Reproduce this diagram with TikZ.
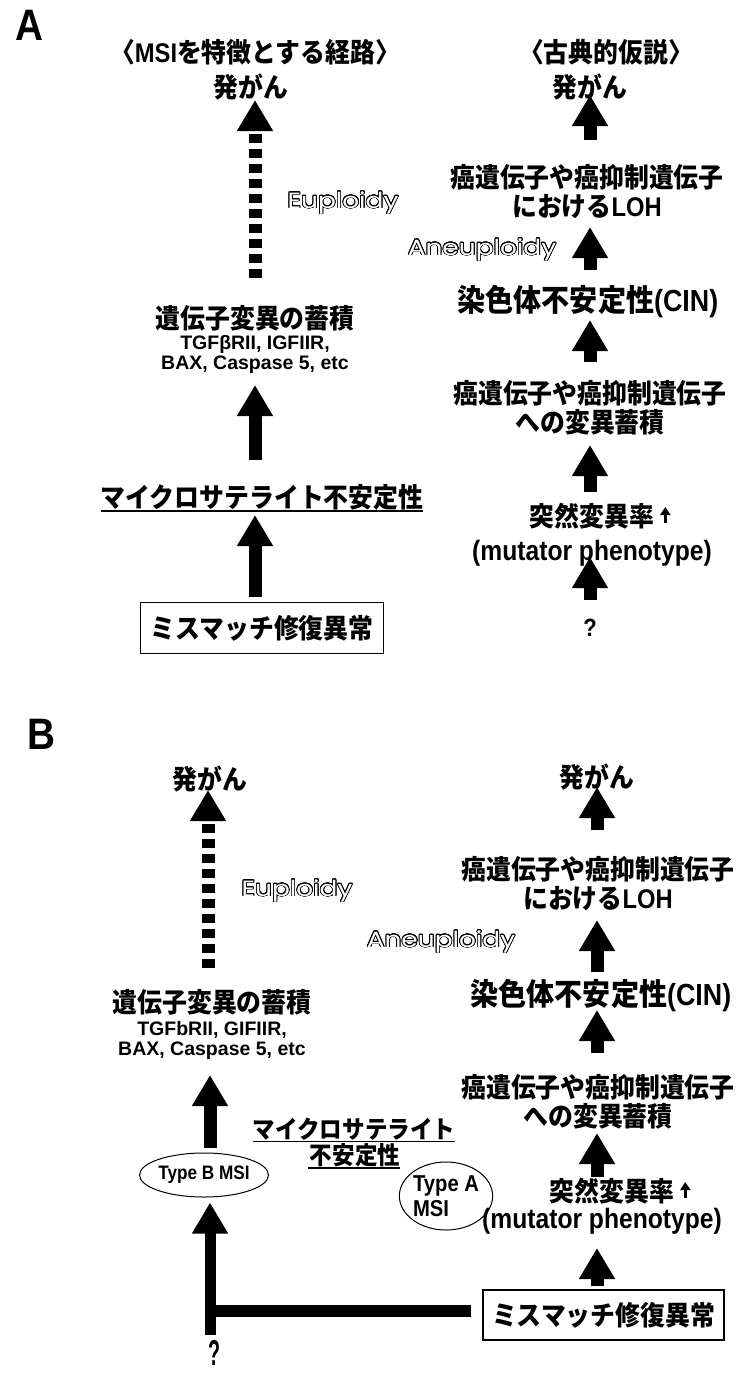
\documentclass[tikz,border=0pt]{standalone}
\usepackage{fontspec}
\usepackage[copies]{contour}
\usetikzlibrary{arrows.meta,calc,shapes.geometric}
\newfontfamily\jp{Noto Sans CJK JP}[FakeStretch=0.92]
\newfontfamily\lat{Liberation Sans}[FakeStretch=0.88]
\newfontfamily\latw{Liberation Sans}
\newfontfamily\rnd{Poppins}[FakeStretch=1.2]
\contourlength{0.8pt}
\contournumber{24}
\newcommand{\olt}[1]{{\color{white}\contour{black}{#1}}}
\begin{document}
\begin{tikzpicture}[x=1pt,y=-1pt,
 jt/.style={font=\jp\bfseries\fontsize{27}{29}\selectfont, inner sep=0pt, align=center},
 big/.style={font=\jp\bfseries\fontsize{30.5}{31}\selectfont, inner sep=0pt, align=center},
 lt/.style={font=\lat\bfseries\fontsize{28}{28}\selectfont, inner sep=0pt, align=center},
 sub/.style={font=\latw\bfseries\fontsize{19.5}{20}\selectfont, inner sep=0pt, align=center},
 lab/.style={font=\lat\bfseries\fontsize{44}{44}\selectfont, inner sep=0pt},
 ol/.style={font=\rnd\fontsize{22}{22}\selectfont, inner sep=0pt},
 fat/.style={line width=13pt, -{Triangle[width=34pt,length=31pt]}},
 fatdash/.style={fat, dash pattern=on 9pt off 6pt},
 thinarr/.style={line width=3.5pt, -{Triangle[width=10pt,length=8pt]}},
 boxed/.style={jt, draw, line width=1.2pt, minimum width=243pt, minimum height=51pt},
 oval/.style={ellipse, draw, line width=1pt, inner sep=0pt, font=\lat\bfseries\fontsize{19.5}{22}\selectfont},
 ul/.style={line width=1.6pt},
 bar/.style={line width=12pt}
]
\fill[white] (0,0) rectangle (739,1373);
\useasboundingbox (0,0) rectangle (739,1373);

% column coordinates
\coordinate (colAL) at (255,0);
\coordinate (colAR) at (590,0);
\coordinate (colBLd) at (208,0);
\coordinate (colBL) at (210,0);
\coordinate (colBR) at (597,0);

% ---------------- Panel A ----------------
\node[lab] (labA) at (29,25) {A};
\node[jt] (headL) at (255,52) {〈{\lat MSI}を特徴とする経路〉};
\node[jt] (headR) at (606,52) {〈古典的仮説〉};
\node[jt] (hatsuAL) at (251,87) {発がん};
\node[jt] (hatsuAR) at (590,87) {発がん};
\node[ol] (euA) at (343,203) {\olt{Euploidy}};
\node[jt] (lohA) at (587,191.5) {癌遺伝子や癌抑制遺伝子\\における{\lat LOH}};
\node[ol] (aneuA) at (482,250) {\olt{Aneuploidy}};
\node[big] (cinA) at (588,302) {染色体不安定性{\lat (CIN)}};
\node[jt] (mutA) at (590,408) {癌遺伝子や癌抑制遺伝子\\への変異蓄積};
\node[jt] (rateA) at (592,516) {突然変異率};
\node[lt] (phenA) at (592,553) {(mutator phenotype)};
\node[lt, font=\lat\bfseries\fontsize{25}{25}\selectfont] (qA) at (590,628) {?};
\node[jt] (geneA) at (255,318) {遺伝子変異の蓄積};
\node[sub] (geneAsub) at (255,354.5) {TGF{β}RII, IGFIIR,\\BAX, Caspase 5, etc};
\node[jt] (msiA) at (262,497) {マイクロサテライト不安定性};
\node[boxed] (boxA) at (262,628) {ミスマッチ修復異常};

\draw[ul] ($(msiA.south west)+(0,1)$) -- ($(msiA.south east)+(0,1)$);
\draw[thinarr] ($(rateA.east)+(11,7)$) -- ($(rateA.east)+(11,-9)$);

\draw[fatdash] ($(colAL |- geneA.center)+(0,-40)$) -- ($(colAL |- hatsuAL.center)+(0,13)$);
\draw[fat] ($(colAL |- msiA.center)+(0,-37)$) -- ($(colAL |- geneAsub.center)+(0,30.5)$);
\draw[fat] ($(colAL |- boxA.north)+(0,-5)$) -- ($(colAL |- msiA.center)+(0,18)$);

\draw[fat] ($(colAR |- lohA.center)+(0,-51.5)$) -- ($(colAR |- hatsuAR.center)+(0,8)$);
\draw[fat] ($(colAR |- cinA.center)+(0,-32)$) -- ($(colAR |- lohA.center)+(0,35.5)$);
\draw[fat] ($(colAR |- mutA.center)+(0,-46)$) -- ($(colAR |- cinA.center)+(0,18)$);
\draw[fat] ($(colAR |- rateA.center)+(0,-24)$) -- ($(colAR |- mutA.center)+(0,37)$);
\draw[fat] ($(colAR |- qA.center)+(0,-28)$) -- ($(colAR |- phenA.center)+(0,4)$);

% ---------------- Panel B ----------------
\node[lab] (labB) at (41,734) {B};
\node[jt] (hatsuBL) at (210,779) {発がん};
\node[jt] (hatsuBR) at (597,777) {発がん};
\node[ol] (euB) at (297,891) {\olt{Euploidy}};
\node[jt] (lohB) at (598,884) {癌遺伝子や癌抑制遺伝子\\における{\lat LOH}};
\node[ol] (aneuB) at (441,942) {\olt{Aneuploidy}};
\node[big] (cinB) at (601,996) {染色体不安定性{\lat (CIN)}};
\node[jt] (mutB) at (598,1101.5) {癌遺伝子や癌抑制遺伝子\\への変異蓄積};
\node[jt] (rateB) at (612,1191) {突然変異率};
\node[lt] (phenB) at (602,1221) {(mutator phenotype)};
\node[boxed, minimum width=241pt, minimum height=50pt] (boxB) at (603.5,1315) {ミスマッチ修復異常};
\node[jt] (geneB) at (212,1002) {遺伝子変異の蓄積};
\node[sub] (geneBsub) at (212,1040) {TGFbRII, GIFIIR,\\BAX, Caspase 5, etc};
\node[jt, font=\jp\bfseries\fontsize{24.5}{26}\selectfont] (msiB1) at (354,1129) {マイクロサテライト};
\node[jt, font=\jp\bfseries\fontsize{24.5}{26}\selectfont] (msiB2) at (355,1155) {不安定性};
\node[oval, minimum width=125pt, minimum height=44pt] (typeB) at (204,1175) {Type B MSI};
\node[oval, minimum width=93pt, minimum height=68pt, align=left, font=\lat\bfseries\fontsize{23}{25}\selectfont] (typeA) at (446,1196) {Type A\\MSI};
\node[font=\lat\bfseries\fontsize{36}{36}\selectfont, inner sep=0pt] (qB) at (214,1353) {\scalebox{0.62}[1]{?}};

\draw[ul] ($(msiB1.south west)+(0,1)$) -- ($(msiB1.south east)+(0,1)$);
\draw[ul] ($(msiB2.south west)+(-2,1)$) -- ($(msiB2.south east)+(0,1)$);
\draw[thinarr] ($(rateB.east)+(11,7)$) -- ($(rateB.east)+(11,-9)$);

\draw[fatdash] ($(colBLd |- geneB.center)+(0,-34)$) -- ($(colBLd |- hatsuBL.center)+(0,11)$);
\draw[fat] ($(colBL |- typeB.north)+(0,-5)$) -- ($(colBL |- geneBsub.center)+(0,35)$);
\draw[fat, line width=11pt] ($(colBL |- qB.center)+(0,-18)$) -- ($(colBL |- typeB.south)+(0,5)$);
\draw[bar] ($(boxB.west)+(-11,-4)$) -- ($(colBL |- boxB.west)+(-5.5,-4)$);

\draw[fat] ($(colBR |- lohB.center)+(0,-54)$) -- ($(colBR |- hatsuBR.center)+(0,10)$);
\draw[fat] ($(colBR |- cinB.center)+(0,-24)$) -- ($(colBR |- lohB.center)+(0,36)$);
\draw[fat] ($(colBR |- mutB.center)+(0,-48.5)$) -- ($(colBR |- cinB.center)+(0,14)$);
\draw[fat] ($(colBR |- rateB.center)+(0,-14)$) -- ($(colBR |- mutB.center)+(0,31.5)$);
\draw[fat] ($(colBR |- boxB.north)+(0,-3)$) -- ($(colBR |- phenB.center)+(0,27)$);
\end{tikzpicture}
\end{document}
